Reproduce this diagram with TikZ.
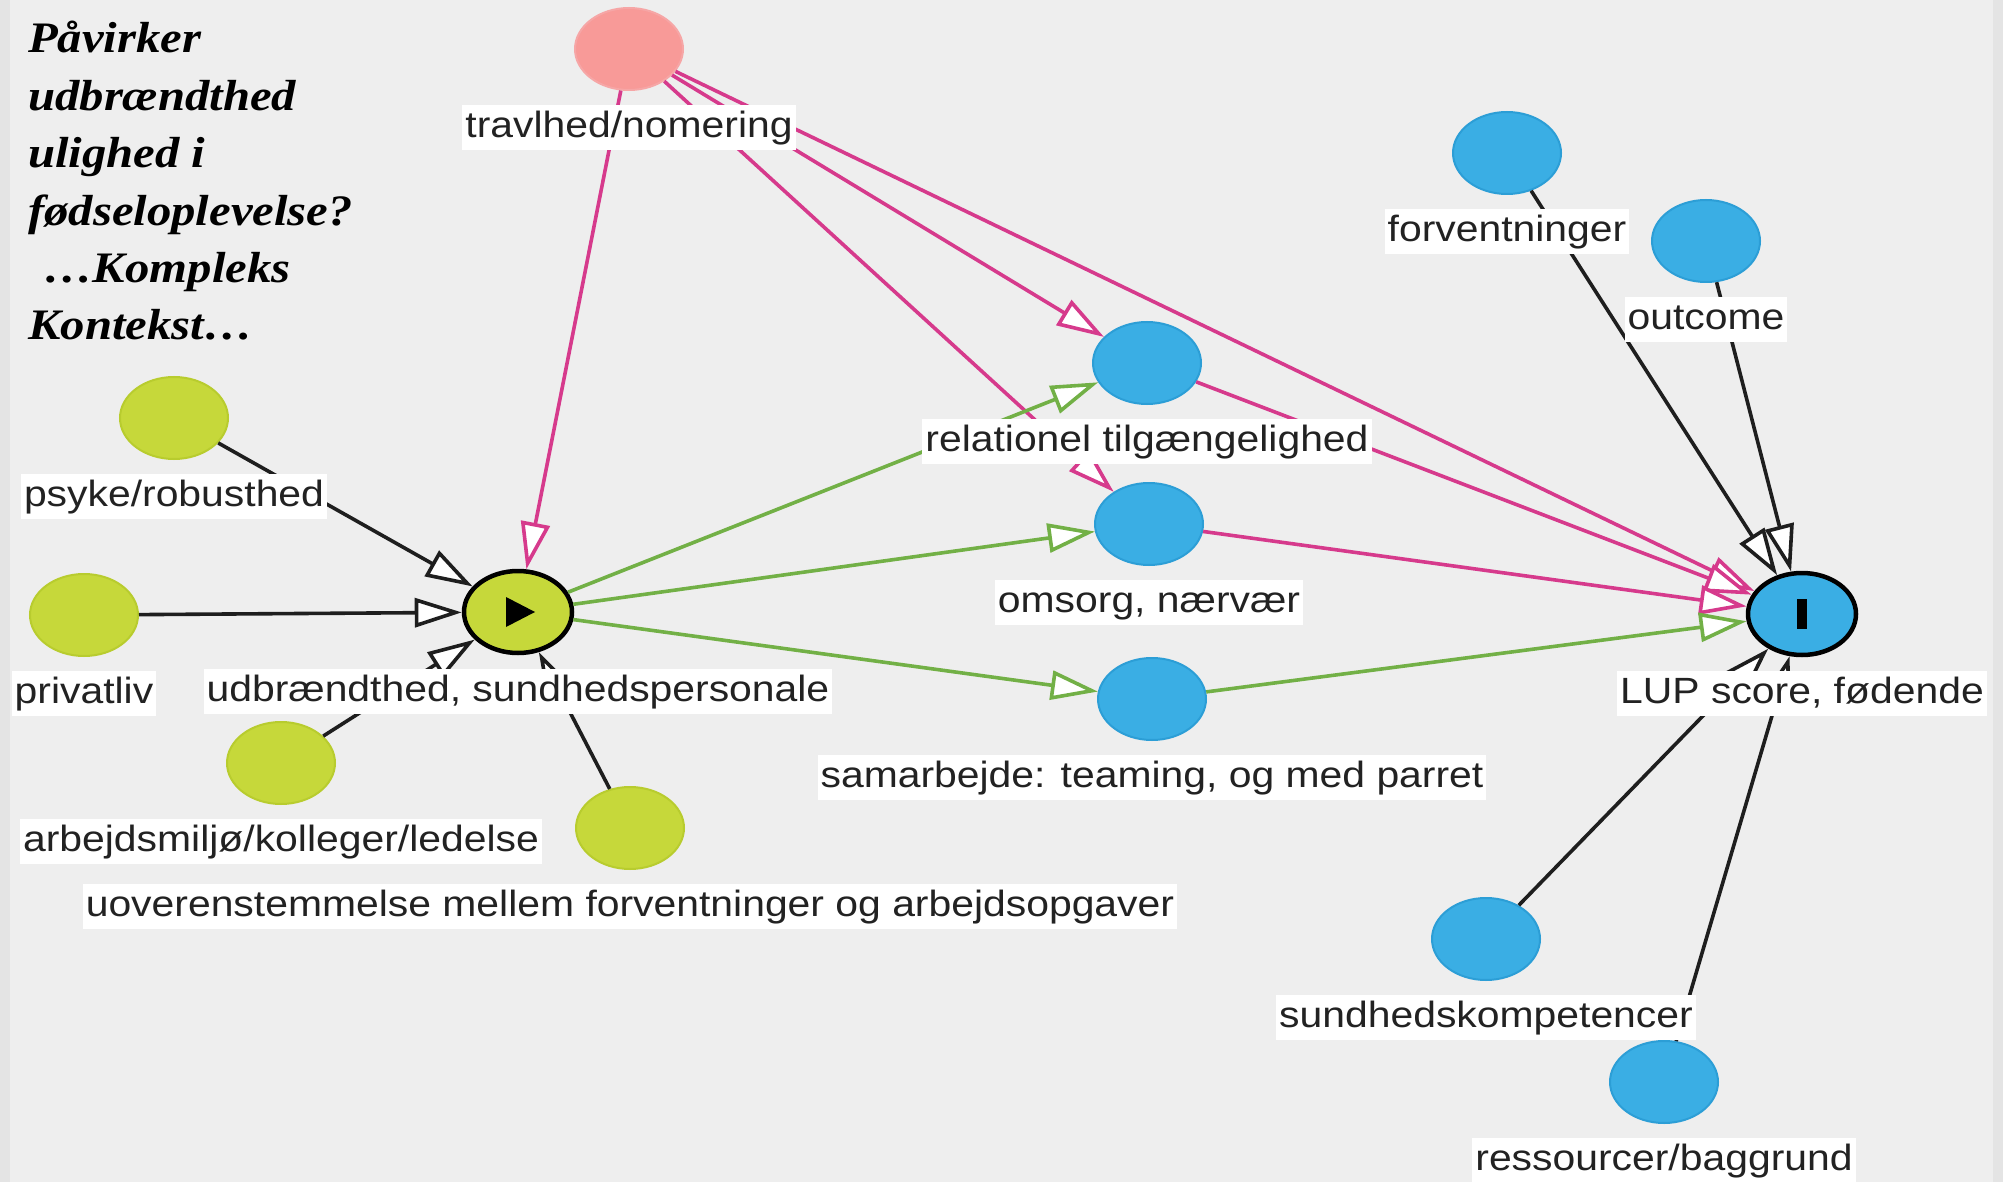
\documentclass[tikz,border=0pt]{standalone}
\usepackage{fontspec}
\setmainfont{Liberation Sans}[FakeStretch=1.12]
\newfontfamily\titlefont{Liberation Serif}[FakeStretch=1.12]
\usetikzlibrary{arrows.meta,shapes.geometric,positioning,calc}

\definecolor{bgc}{HTML}{EEEEEE}
\definecolor{stripc}{HTML}{E4E4E4}
\definecolor{nblue}{HTML}{3AAEE4}
\definecolor{nblueD}{HTML}{2C9ED6}
\definecolor{ngreen}{HTML}{C6D83A}
\definecolor{ngreenD}{HTML}{B8CC2E}
\definecolor{npink}{HTML}{F89A98}
\definecolor{npinkD}{HTML}{F6A6A6}
\definecolor{epink}{HTML}{D63A8C}
\definecolor{egreen}{HTML}{72B046}
\definecolor{eblack}{HTML}{1E1E1E}
\definecolor{txt}{HTML}{222222}

\begin{document}
\begin{tikzpicture}[x=1pt,y=-1pt,
  nbase/.style={ellipse, minimum width=108pt, minimum height=82pt, inner sep=0pt, line width=2pt},
  blueN/.style={nbase, fill=nblue, draw=nblueD},
  greenN/.style={nbase, fill=ngreen, draw=ngreenD},
  pinkN/.style={nbase, fill=npink, draw=npinkD},
  keyN/.style={draw=black, line width=4.5pt},
  lbl/.style={fill=white, text=txt, font=\fontsize{36.5}{40}\selectfont,
    inner xsep=3pt, inner ysep=4pt, text height=28pt, text depth=9pt},
  ttl/.style={inner sep=0pt, anchor=base west, font=\titlefont\bfseries\itshape\fontsize{43.5}{50}\selectfont},
  conn/.style={line width=3.6pt, -{Triangle[length=47pt,width=29pt,fill=white]}},
  blk/.style={conn, draw=eblack},
  pnk/.style={conn, draw=epink},
  grn/.style={conn, draw=egreen}
]
% canvas
\useasboundingbox (0,0) rectangle (2003,1182);
\fill[bgc] (0,0) rectangle (2003,1182);
\fill[stripc] (0,0) rectangle (10,1182);
\fill[stripc] (1993,0) rectangle (2003,1182);

% heading
\node[ttl] (t1) at (28,53) {Påvirker};
\node[ttl] (t2) at (28,110.4) {udbrændthed};
\node[ttl] (t3) at (28,167.8) {ulighed i};
\node[ttl] (t4) at (28,225.2) {fødseloplevelse?};
\node[ttl] (t5) at (44,282.6) {…Kompleks};
\node[ttl] (t6) at (28,340) {Kontekst…};

% variables
\node[pinkN] (travl) at (629,49) {};
\node[greenN] (psyke) at (174,418) {};
\node[greenN] (priv) at (84,615) {};
\node[greenN, keyN] (udb) at (518,612) {};
\node[greenN] (arb) at (281,763) {};
\node[greenN] (uov) at (630,828) {};
\node[blueN] (rel) at (1147,363) {};
\node[blueN] (oms) at (1149,524) {};
\node[blueN] (sam) at (1152,699) {};
\node[blueN] (forv) at (1507,153) {};
\node[blueN] (outc) at (1706,241) {};
\node[blueN, keyN] (lup) at (1802,614) {};
\node[blueN] (sund) at (1486,939) {};
\node[blueN] (ress) at (1664,1082) {};

% exposure and outcome marks
\fill[black] ($(udb)+(-12,-15)$) -- ($(udb)+(17,0)$) -- ($(udb)+(-12,15)$) -- cycle;
\fill[black] ($(lup)+(-5,-15)$) rectangle ($(lup)+(5,15)$);

% causes of burnout
\draw[blk] (psyke) -- (udb);
\draw[blk] (priv) -- (udb);
\draw[blk] (arb) -- (udb);
\draw[blk] (uov) -- (udb);
% causes of the LUP score
\draw[blk] (forv) -- (lup);
\draw[blk] (outc) -- (lup);
\draw[blk] (sund) -- (lup);
\draw[blk] (ress) -- (lup);
% workload paths
\draw[pnk] (travl) -- (udb);
\draw[pnk] (travl) -- (rel);
\draw[pnk] (travl) -- (oms);
\draw[pnk] (travl) -- (lup);
\draw[pnk] (rel) -- (lup);
\draw[pnk] (oms) -- (lup);
% burnout paths
\draw[grn] (udb) -- (rel);
\draw[grn] (udb) -- (oms);
\draw[grn] (udb) -- (sam);
\draw[grn] (sam) -- (lup);

% labels
\node[lbl, below=14pt of travl] (travlL) {travlhed/nomering};
\node[lbl, below=14pt of psyke] (psykeL) {psyke/robusthed};
\node[lbl, below=14pt of priv] (privL) {privatliv};
\node[lbl, below=14pt of udb] (udbL) {udbrændthed, sundhedspersonale};
\node[lbl, below=14pt of arb] (arbL) {arbejdsmiljø/kolleger/ledelse};
\node[lbl, below=14pt of uov] (uovL) {uoverenstemmelse mellem forventninger og arbejdsopgaver};
\node[lbl, below=14pt of rel] (relL) {relationel tilgængelighed};
\node[lbl, below=14pt of oms] (omsL) {omsorg, nærvær};
\node[lbl, below=14pt of sam] (samL) {samarbejde: teaming, og med parret};
\node[lbl, below=14pt of forv] (forvL) {forventninger};
\node[lbl, below=14pt of outc] (outcL) {outcome};
\node[lbl, below=14pt of lup] (lupL) {LUP score, fødende};
\node[lbl, below=14pt of sund] (sundL) {sundhedskompetencer};
\node[lbl, below=14pt of ress] (ressL) {ressourcer/baggrund};
\end{tikzpicture}
\end{document}
